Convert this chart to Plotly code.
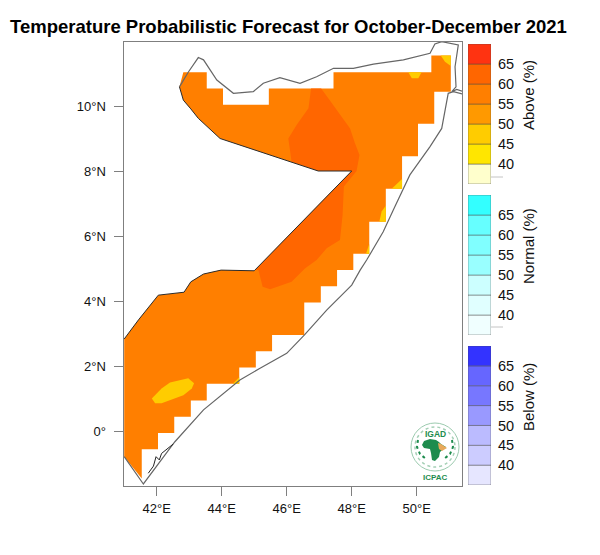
import plotly.graph_objects as go

TITLE = "Temperature Probabilistic Forecast for October-December 2021"
FONT = "Liberation Sans"

# Regions in degrees (lon, lat)
main_lon = [42.82,43.54,43.54,44.04,44.04,45.45,45.45,47.44,47.44,50.45,50.45,51.05,51.05,50.54,50.54,50.04,50.04,49.55,49.55,49.05,49.05,48.54,48.54,48.05,48.05,47.55,47.55,47.05,47.05,46.54,46.54,45.55,45.55,45.05,45.05,44.54,44.54,43.54,43.54,43.05,43.05,42.54,42.54,42.04,42.04,41.54,41.54,41.0,41.0,41.44,42.05,42.84,43.05,43.44,43.98,45.0,48.0,46.97,43.95,43.64,43.28,43.05,42.82,42.70,42.82]
main_lat = [11.04,11.04,10.54,10.54,10.04,10.04,10.54,10.54,11.04,11.04,11.55,11.55,10.44,10.44,9.45,9.45,8.45,8.45,7.45,7.45,6.44,6.44,5.45,5.45,4.95,4.95,4.45,4.45,3.95,3.95,2.95,2.95,2.45,2.45,1.95,1.95,1.45,1.45,0.94,0.94,0.44,0.44,-0.06,-0.06,-0.56,-0.56,-1.46,-0.79,2.83,3.42,4.18,4.27,4.59,4.83,4.95,4.93,8.0,8.0,9.0,9.28,9.62,9.91,10.18,10.59,11.04]

dark_lon = [46.75,47.06,47.28,47.54,47.95,48.10,48.24,48.15,47.76,47.72,47.64,47.23,46.92,46.56,46.15,45.49,45.26,45.13,45.03,48.0,46.97,46.15,46.05,46.31,46.67,46.75]
dark_lat = [10.54,10.54,10.24,9.88,9.31,8.85,8.49,8.0,7.52,6.65,5.88,5.62,5.26,5.0,4.59,4.36,4.44,4.95,4.95,8.0,8.0,8.29,9.0,9.42,9.93,10.54]

yellow_south_lon = [41.85,42.15,42.41,42.97,43.15,43.08,42.82,42.15,41.95,41.85]
yellow_south_lat = [1.0,1.31,1.49,1.62,1.47,1.31,1.10,0.85,0.85,1.0]
yellow_top_lon = [49.74,50.15,50.05,49.85,49.74]
yellow_top_lat = [11.04,11.04,10.85,10.85,11.04]
yellow_tip_lon = [50.74,51.05,51.05,50.87,50.74]
yellow_tip_lat = [11.55,11.55,11.23,11.36,11.55]
yellow_d_lon = [49.55,49.55,49.23,49.38,49.55]
yellow_d_lat = [7.75,7.45,7.45,7.6,7.75]
yellow_e_lon = [49.05,49.05,48.85,48.92,49.05]
yellow_e_lat = [6.93,6.44,6.44,6.75,6.93]
yellow_f_lon = [48.54,48.54,48.44,48.54]
yellow_f_lat = [5.75,5.45,5.45,5.75]
yellow_g_lon = [44.54,44.54,44.34,44.54]
yellow_g_lat = [1.65,1.45,1.45,1.65]

coast_lon = [42.70,42.97,43.28,43.44,43.85,44.36,44.97,45.28,45.79,46.41,46.92,47.44,48.05,48.67,49.59,50.41,50.56,50.77,51.28,51.18,51.21,51.08,51.23,51.44,51.42,51.13,50.97,50.87,50.77,50.41,49.79,49.28,48.97,48.46,48.26,48.0,47.23,46.54,46.0,45.18,44.56,43.44,42.56,41.59,41.0]
coast_lat = [10.59,11.04,11.49,11.42,10.8,10.39,10.44,10.70,10.87,10.70,10.90,11.16,11.16,11.29,11.42,11.62,11.91,11.98,11.88,11.21,10.59,10.44,10.51,10.44,10.37,10.44,10.39,9.88,9.31,8.75,7.88,6.8,6.13,5.26,4.95,4.49,3.72,2.95,2.39,1.93,1.57,0.65,-0.33,-1.63,-0.79]

border_lon = [41.0,41.44,42.05,42.84,43.05,43.44,43.98,45.0,48.0,46.97,43.95,43.64,43.28,43.05,42.82,42.70]
border_lat = [2.83,3.42,4.18,4.27,4.59,4.83,4.95,4.93,8.0,8.0,9.0,9.28,9.62,9.91,10.18,10.59]

islands_lon = [41.74,41.90,41.98,42.08,42.15,42.51]
islands_lat = [-1.3,-1.08,-0.79,-0.89,-0.69,-0.4]

xticks = [42,44,46,48,50]
xlabels = ["42°E","44°E","46°E","48°E","50°E"]
yticks = [0,2,4,6,8,10]
ylabels = ["0°","2°N","4°N","6°N","8°N","10°N"]

# Legend
edges = [35,40,45,50,55,60,65]
step = [5,5,5,5,5,5,5]
legend_ticks = [40,45,50,55,60,65]
above_colors = ["#FFFFCC","#FFE600","#FFCC00","#FF9900","#FF7F00","#FF6600","#FF3311"]
normal_colors = ["#F0FFFF","#E0FFFF","#CCFFFF","#99FFFF","#80FFFF","#66FFFF","#33FFFF"]
below_colors = ["#E6E6FF","#CCCCFF","#BBBBFF","#9999FF","#7777FF","#6666FF","#3333FF"]

W, H = 600, 555
ORANGE, DARK, YELLOW = "#FF7F00", "#FF6600", "#FFCC00"

fig = go.Figure()

def poly(lon, lat, color):
    fig.add_trace(go.Scatter(x=lon, y=lat, mode="lines", fill="toself", fillcolor=color,
                             line=dict(width=0, color=color), hoverinfo="skip", showlegend=False))

poly(main_lon, main_lat, ORANGE)
poly(dark_lon, dark_lat, DARK)
for lo, la in [(yellow_south_lon, yellow_south_lat), (yellow_top_lon, yellow_top_lat),
               (yellow_tip_lon, yellow_tip_lat), (yellow_d_lon, yellow_d_lat),
               (yellow_e_lon, yellow_e_lat), (yellow_f_lon, yellow_f_lat),
               (yellow_g_lon, yellow_g_lat)]:
    poly(lo, la, YELLOW)

fig.add_trace(go.Scatter(x=coast_lon, y=coast_lat, mode="lines", line=dict(color="#666666", width=1.2),
                         hoverinfo="skip", showlegend=False))
fig.add_trace(go.Scatter(x=border_lon, y=border_lat, mode="lines", line=dict(color="#2b2b2b", width=1),
                         hoverinfo="skip", showlegend=False))
fig.add_trace(go.Scatter(x=islands_lon, y=islands_lat, mode="lines", line=dict(color="#222222", width=1),
                         hoverinfo="skip", showlegend=False))

# Legend bars
def legend_bar(colors, n):
    fig.add_trace(go.Bar(x=[0]*7, y=step, base=edges, width=1, xaxis=f"x{n}", yaxis=f"y{n}",
                         marker=dict(color=colors, line=dict(color="rgba(70,70,70,0.45)", width=1)),
                         hoverinfo="skip", showlegend=False))

legend_bar(above_colors, 2)
legend_bar(normal_colors, 3)
legend_bar(below_colors, 4)

def legend_axes(n, top, bottom):
    fig.layout[f"xaxis{n}"] = dict(domain=[468/W, 491/W], range=[-0.5, 0.5], anchor=f"y{n}",
                                   visible=False, fixedrange=True)
    fig.layout[f"yaxis{n}"] = dict(domain=[1-bottom/H, 1-top/H], range=[35, 70], anchor=f"x{n}",
                                   side="right", tickvals=legend_ticks, ticks="", showgrid=False,
                                   zeroline=False, showline=False, ticklabelstandoff=6,
                                   tickfont=dict(family=FONT, size=14.5, color="#111"))

legend_axes(2, 44, 184)
legend_axes(3, 195, 335)
legend_axes(4, 346, 485)

axis_common = dict(showgrid=False, zeroline=False, showline=True, mirror=True, linecolor="#7f7f7f",
                   linewidth=1, ticks="outside", ticklen=9, tickcolor="#7f7f7f", tickwidth=1,
                   tickfont=dict(family=FONT, size=13, color="#111"))

LX0, LX1 = 42 + (123.5-156.7)/32.5, 42 + (462-156.7)/32.5
LY0, LY1 = 10 - (485.7-106)/32.5, 10 + (106-41.7)/32.5

def lon_at(px):
    return 42 + (px-156.7)/32.5
def lat_at(py):
    return 10 - (py-106)/32.5

GREEN = "#1E8C4E"
LOGO_X, LOGO_Y = 435, 447

def circle(r, color, width, dash="solid"):
    return dict(type="circle", xref="x", yref="y",
                x0=lon_at(LOGO_X-r), x1=lon_at(LOGO_X+r),
                y0=lat_at(LOGO_Y+r), y1=lat_at(LOGO_Y-r),
                line=dict(color=color, width=width, dash=dash), fillcolor="rgba(0,0,0,0)")

def logo_path(points, fill):
    d = "M " + " L ".join(f"{lon_at(LOGO_X+a):.3f},{lat_at(LOGO_Y+b):.3f}" for a, b in points) + " Z"
    return dict(type="path", xref="x", yref="y", path=d, fillcolor=fill, line=dict(width=0))

def laurel(points):
    d = "M " + " L ".join(f"{lon_at(LOGO_X+a):.3f},{lat_at(LOGO_Y+b):.3f}" for a, b in points)
    return dict(type="path", xref="x", yref="y", path=d,
                line=dict(color=GREEN, width=2, dash="dot"))

africa = [(-11,-6),(-5,-8),(1,-7),(4,-5),(6,-3),(11,0),(5,5),(4,10),(0,14),(-3,13),(-4,6),(-5,2),(-11,1),(-13,-2)]
horn = [(3,-4),(6,-3),(12,1),(7,4),(4,2)]
shapes = [circle(24, "#9CCBAF", 1), circle(20, "#A5D0B6", 1.5, "dot"),
          logo_path(africa, GREEN), logo_path(horn, "#E8A95B"),
          laurel([(-17,-7),(-18,0),(-15,7),(-9,12)]), laurel([(17,-7),(18,0),(15,7),(9,12)])]

# small ticks under the lowest swatch of the upper two legends
for py in (177, 327):
    shapes.append(dict(type="line", xref="paper", yref="paper", x0=491/W, x1=503/W, y0=1-py/H, y1=1-py/H,
                       line=dict(color="#c4c4c4", width=1)))

annotations = [
    dict(text=f"<b>{TITLE}</b>", x=288.5/W, y=1-27/H, xref="paper", yref="paper", showarrow=False,
         xanchor="center", yanchor="middle", font=dict(family=FONT, size=18.5, color="#000")),
    dict(text="Above (%)", x=528/W, y=1-95/H, xref="paper", yref="paper", showarrow=False, textangle=-90,
         xanchor="center", yanchor="middle", font=dict(family=FONT, size=15, color="#111")),
    dict(text="Normal (%)", x=528/W, y=1-246/H, xref="paper", yref="paper", showarrow=False, textangle=-90,
         xanchor="center", yanchor="middle", font=dict(family=FONT, size=15, color="#111")),
    dict(text="Below (%)", x=528/W, y=1-397/H, xref="paper", yref="paper", showarrow=False, textangle=-90,
         xanchor="center", yanchor="middle", font=dict(family=FONT, size=15, color="#111")),
    dict(text="<b>IGAD</b>", x=lon_at(435), y=lat_at(434), showarrow=False, xanchor="center", yanchor="middle",
         font=dict(family=FONT, size=8.5, color=GREEN)),
    dict(text="<b>ICPAC</b>", x=lon_at(435), y=lat_at(477), showarrow=False, xanchor="center", yanchor="middle",
         font=dict(family=FONT, size=8, color=GREEN)),
]

fig.update_layout(
    width=W, height=H, margin=dict(l=0, r=0, t=0, b=0), paper_bgcolor="white", plot_bgcolor="white",
    showlegend=False, barmode="overlay", shapes=shapes, annotations=annotations,
    xaxis=dict(domain=[123.5/W, 462/W], range=[LX0, LX1], tickvals=xticks, ticktext=xlabels,
               ticklabelstandoff=2, **axis_common),
    yaxis=dict(domain=[1-485.7/H, 1-41.7/H], range=[LY0, LY1], tickvals=yticks, ticktext=ylabels,
               ticklabelstandoff=5, **axis_common),
)

# The page's default 8px body margin would shift the whole figure
fig.write_html("out.html", config=dict(displayModeBar=False),
               post_script="document.body.style.margin='0';document.documentElement.style.overflow='hidden';")
